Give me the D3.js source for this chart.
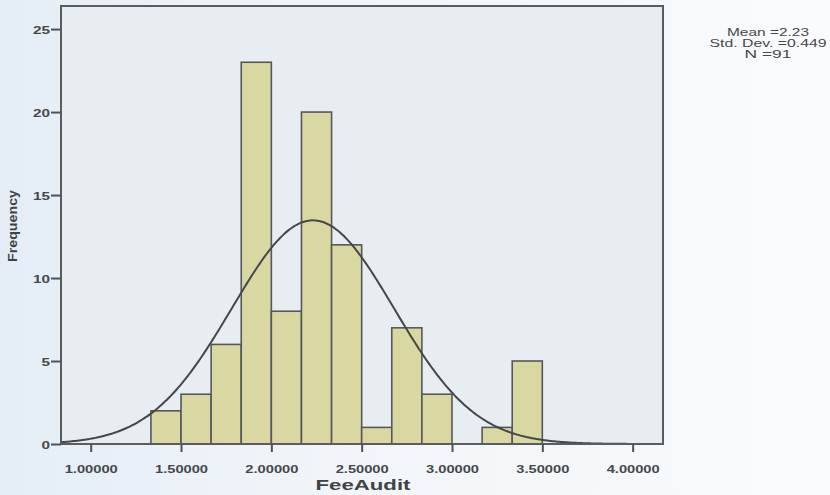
<!DOCTYPE html>
<html><head><meta charset="utf-8">
<script src="https://cdn.jsdelivr.net/npm/d3@7"></script>
<style>body{margin:0;}svg{display:block;}</style>
</head><body>
<script>
// ---- data ----
const binLower = [1.33333, 1.5, 1.66667, 1.83333, 2.0, 2.16667, 2.33333, 2.5, 2.66667, 2.83333, 3.0, 3.16667, 3.33333];
const binWidth = 0.166667;
const frequency = [2, 3, 6, 23, 8, 20, 12, 1, 7, 3, 0, 1, 5];
const xTicks = [1.0, 1.5, 2.0, 2.5, 3.0, 3.5, 4.0];
const xTickLabels = ["1.00000", "1.50000", "2.00000", "2.50000", "3.00000", "3.50000", "4.00000"];
const yTicks = [0, 5, 10, 15, 20, 25];
const stats = {mean: 2.23, sd: 0.449, n: 91};
const statLines = ["Mean =2.23", "Std. Dev. =0.449", "N =91"];

const W = 830, H = 495;
const svg = d3.select("body").append("svg").attr("width", W).attr("height", H);
const defs = svg.append("defs");
const g1 = defs.append("linearGradient").attr("id", "bg").attr("x1", "0").attr("x2", "1").attr("y1", "0").attr("y2", "0");
g1.append("stop").attr("offset", "0").attr("stop-color", "#e4edf6");
g1.append("stop").attr("offset", "0.4").attr("stop-color", "#f1f5f9");
g1.append("stop").attr("offset", "1").attr("stop-color", "#f9fbfc");
svg.append("rect").attr("width", W).attr("height", H).attr("fill", "url(#bg)");

const x = d3.scaleLinear().domain([0.8356, 4.168]).range([61, 663]);
const y = d3.scaleLinear().domain([0, 26.39]).range([444, 6]);

const font = "'Liberation Sans', Arial, sans-serif";

// plot area
svg.append("rect").attr("x", x.range()[0]).attr("y", y.range()[1])
  .attr("width", x.range()[1] - x.range()[0]).attr("height", y.range()[0] - y.range()[1])
  .attr("fill", "#e7edf1");

// bars
svg.append("g").selectAll("rect").data(frequency).join("rect")
  .attr("x", (d, i) => x(binLower[i]))
  .attr("width", (d, i) => x(binLower[i] + binWidth) - x(binLower[i]))
  .attr("y", d => y(d))
  .attr("height", d => y(0) - y(d))
  .attr("fill", "#d9d8a3")
  .attr("stroke", "#55585a")
  .attr("stroke-width", 1.6)
  .attr("display", d => d > 0 ? null : "none");

// normal curve
const peak = stats.n * binWidth / (stats.sd * Math.sqrt(2 * Math.PI));
const xs = d3.range(x.domain()[0], 4.1, 0.01);
const line = d3.line().x(d => x(d)).y(d => y(peak * Math.exp(-0.5 * Math.pow((d - stats.mean) / stats.sd, 2)))).curve(d3.curveBasis);
svg.append("path").datum(xs).attr("d", line).attr("fill", "none")
  .attr("stroke", "#454749").attr("stroke-width", 2);

// frame
svg.append("rect").attr("x", x.range()[0]).attr("y", y.range()[1])
  .attr("width", x.range()[1] - x.range()[0]).attr("height", y.range()[0] - y.range()[1])
  .attr("fill", "none").attr("stroke", "#5a5d60").attr("stroke-width", 2);

// x axis
const xAxis = svg.append("g").attr("transform", `translate(0,${y(0)})`)
  .call(d3.axisBottom(x).tickValues(xTicks).tickSize(8).tickFormat((d, i) => xTickLabels[i]));
xAxis.select(".domain").remove();
xAxis.selectAll("line").attr("stroke", "#505356").attr("stroke-width", 2);
xAxis.selectAll("text").attr("font-family", font).attr("font-size", 11.5).attr("fill", "#45484b")
  .attr("font-weight", "bold").attr("y", 21)
  .attr("textLength", 53).attr("lengthAdjust", "spacingAndGlyphs");

// y axis
const yAxis = svg.append("g").attr("transform", `translate(${x.range()[0]},0)`)
  .call(d3.axisLeft(y).tickValues(yTicks).tickSize(10));
yAxis.select(".domain").remove();
yAxis.selectAll("line").attr("stroke", "#505356").attr("stroke-width", 2);
yAxis.selectAll("text").attr("font-family", font).attr("font-size", 11.5).attr("fill", "#45484b")
  .attr("font-weight", "bold").attr("x", -11).attr("dy", "0.36em")
  .each(function(d) { const s = String(d); d3.select(this).attr("textLength", s.length > 1 ? 17 : 8.5).attr("lengthAdjust", "spacingAndGlyphs"); });

// axis titles
svg.append("text").attr("x", 363).attr("y", 490).attr("text-anchor", "middle")
  .attr("font-family", font).attr("font-weight", "bold").attr("font-size", 15).attr("fill", "#404346")
  .attr("textLength", 95).attr("lengthAdjust", "spacingAndGlyphs").text("FeeAudit");
svg.append("text").attr("transform", "translate(17,226) rotate(-90)").attr("text-anchor", "middle")
  .attr("font-family", font).attr("font-weight", "bold").attr("font-size", 12.5).attr("fill", "#404346")
  .attr("textLength", 72).attr("lengthAdjust", "spacingAndGlyphs").text("Frequency");

// stats box text
const statW = [82, 117, 47];
svg.append("g").selectAll("text").data(statLines).join("text")
  .attr("x", 768).attr("y", (d, i) => 36 + i * 11).attr("text-anchor", "middle")
  .attr("font-family", font).attr("font-size", 10.5).attr("fill", "#45484b")
  .attr("textLength", (d, i) => statW[i]).attr("lengthAdjust", "spacingAndGlyphs")
  .text(d => d);
</script>
</body></html>
